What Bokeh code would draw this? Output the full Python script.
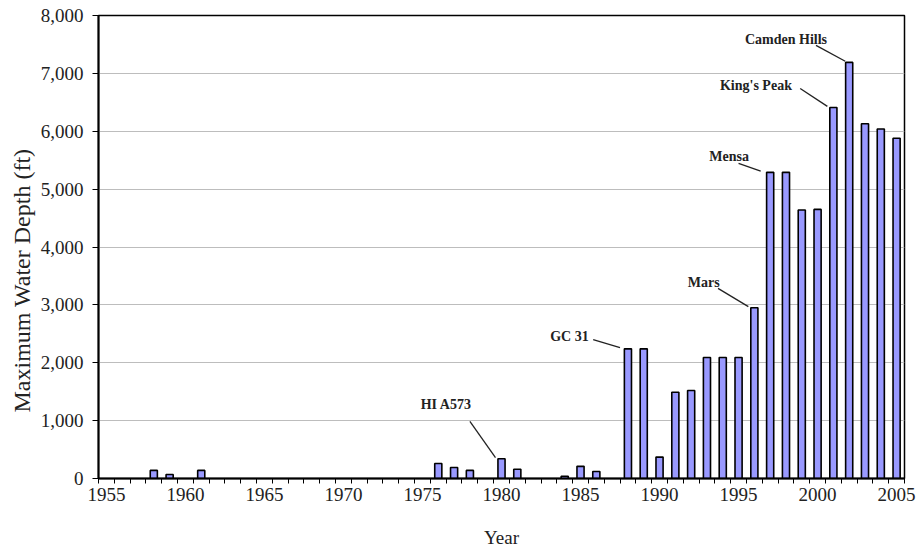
from bokeh.plotting import figure
from bokeh.models import FixedTicker, NumeralTickFormatter, Range1d, ColumnDataSource, Title
from bokeh.core.properties import value
from bokeh.embed import file_html
from bokeh.resources import INLINE

# ---- data ----
years = [1958, 1959, 1961, 1976, 1977, 1978, 1980, 1981, 1984, 1985, 1986,
         1988, 1989, 1990, 1991, 1992, 1993, 1994, 1995, 1996, 1997, 1998,
         1999, 2000, 2001, 2002, 2003, 2004, 2005]
depth = [140, 70, 140, 260, 190, 140, 340, 160, 40, 210, 120,
         2240, 2240, 370, 1490, 1520, 2090, 2090, 2090, 2950, 5290, 5290,
         4640, 4650, 6410, 7190, 6130, 6040, 5880]
x_tick_labels = [1955, 1960, 1965, 1970, 1975, 1980, 1985, 1990, 1995, 2000, 2005]
y_ticks = [0, 1000, 2000, 3000, 4000, 5000, 6000, 7000, 8000]

ann_names = ["HI A573", "GC 31", "Mars", "Mensa", "King's Peak", "Camden Hills"]
ann_years = [1980, 1988, 1996, 1997, 2001, 2002]
# label positions (data coordinates)
ann_tx = [1976.5, 1984.3, 1992.8, 1994.4, 1996.1, 1998.0]
ann_ty = [1280, 2455, 3390, 5570, 6790, 7590]
# leader line starts
ann_lx = [1978.0, 1985.8, 1993.7, 1995.0, 1998.9, 1999.9]
ann_ly = [985, 2400, 3285, 5445, 6740, 7485]
ann_dx = [-0.38, -0.5, -0.38, -0.6, -0.38, -0.25]

# ---- figure ----
SERIF = value("Liberation Serif")
p = figure(x_range=Range1d(1954.5, 2005.5), y_range=Range1d(0, 8000),
           frame_width=806, frame_height=463,
           min_border_left=98, min_border_top=15, min_border_right=12, min_border_bottom=71,
           output_backend="svg", toolbar_location=None)
p.background_fill_color = "white"
p.outline_line_color = "black"
p.outline_line_width = 1.5

p.vbar(x=years, top=depth, width=0.45, bottom=0,
       fill_color="#9999ff", line_color="black", line_width=1.6)

# leader lines and labels
lsrc = ColumnDataSource(dict(
    x0=ann_lx, y0=ann_ly,
    x1=[y + d for y, d in zip(ann_years, ann_dx)],
    y1=[depth[years.index(y)] + 20 for y in ann_years]))
p.segment(x0="x0", y0="y0", x1="x1", y1="y1", source=lsrc,
          line_color="#222222", line_width=1.3)
p.text(x=ann_tx, y=ann_ty, text=ann_names, text_font=SERIF, text_font_style="bold",
       text_font_size="14px", text_align="center", text_baseline="middle",
       text_color="#222222")

# grid
p.xgrid.visible = False
p.ygrid.grid_line_color = "#bdbdbd"
p.ygrid.grid_line_width = 1

# y axis
p.yaxis.ticker = FixedTicker(ticks=y_ticks)
p.yaxis.formatter = NumeralTickFormatter(format="0,0")
p.yaxis.minor_tick_line_color = None
p.yaxis.major_tick_out = 6
p.yaxis.major_tick_in = 0
p.yaxis.major_label_standoff = 9
p.yaxis.axis_line_width = 2

# y axis title placed like the reference (slightly below centre)
p.add_layout(Title(text="Maximum Water Depth (ft)", align="left", offset=66,
                   text_font="Liberation Serif", text_font_size="24px",
                   text_font_style="normal", text_color="#222222", standoff=6), "left")

# x axis
p.xaxis.ticker = FixedTicker(ticks=x_tick_labels,
                             minor_ticks=[1954.5 + k for k in range(52)])
p.xaxis.major_tick_line_color = None
p.xaxis.major_tick_out = 5
p.xaxis.minor_tick_out = 5
p.xaxis.minor_tick_in = 0
p.xaxis.minor_tick_line_color = "black"
p.xaxis.major_label_standoff = 4
p.xaxis.axis_line_width = 2
p.xaxis.axis_label = "Year"
p.xaxis.axis_label_standoff = 23

for ax in (p.xaxis, p.yaxis):
    ax.axis_line_color = "black"
    ax.major_label_text_font = "Liberation Serif"
    ax.major_label_text_font_size = "19px"
    ax.major_label_text_color = "#222222"
    ax.axis_label_text_font = "Liberation Serif"
    ax.axis_label_text_font_style = "normal"
    ax.axis_label_text_color = "#222222"
p.xaxis.axis_label_text_font_size = "19px"

open("out.html", "w").write(file_html(p, INLINE))
